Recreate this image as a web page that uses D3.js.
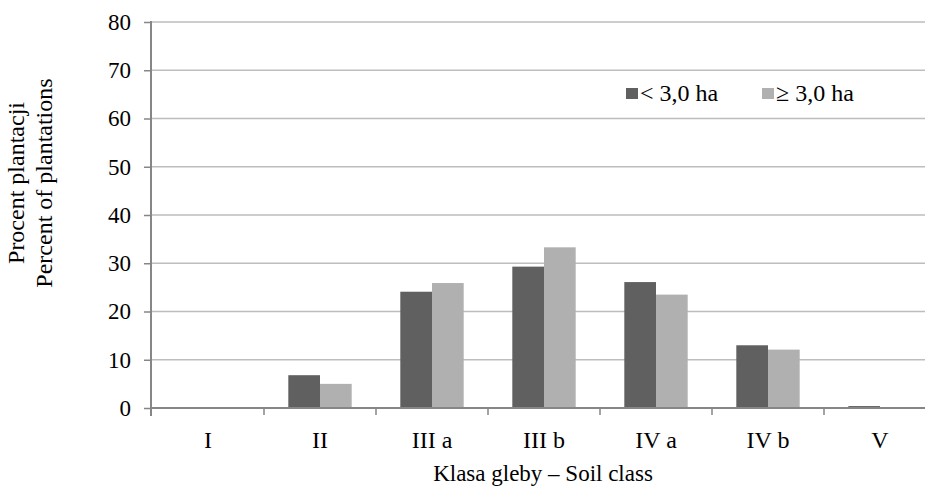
<!DOCTYPE html>
<html>
<head>
<meta charset="utf-8">
<script src="https://cdn.jsdelivr.net/npm/d3@7"></script>
<style>
  body { margin: 0; background: #fff; }
  svg { display: block; font-family: "Liberation Serif", "Times New Roman", serif; }
  .tick text { fill: #000; }
</style>
</head>
<body>
<script>
// data
const categories = ['I', 'II', 'III a', 'III b', 'IV a', 'IV b', 'V'];
const seriesNames = ['< 3,0 ha', '\u2265 3,0 ha'];
const small = [0, 6.8, 24.1, 29.3, 26.1, 13.0, 0.4];
const large = [0, 5.0, 25.9, 33.3, 23.5, 12.1, 0];
const yTicks = [0, 10, 20, 30, 40, 50, 60, 70, 80];

const colors = ['#606060', '#b0b0b0'];
const width = 925, height = 488;
const serif = '"Liberation Serif", "Times New Roman", serif';

const svg = d3.select('body').append('svg')
  .attr('width', width)
  .attr('height', height);

// plot runs past the right edge in the reference (cropped)
const x0 = d3.scaleBand().domain(categories).range([152, 936]).padding(0);
const x1 = d3.scaleBand().domain([0, 1]).range([0, x0.bandwidth()]).paddingInner(0).paddingOuter(0.767);
const y = d3.scaleLinear().domain([0, 80]).range([408, 22]);

// gridlines
svg.append('g')
  .selectAll('line')
  .data(yTicks.filter(d => d > 0))
  .enter().append('line')
  .attr('x1', 152).attr('x2', width)
  .attr('y1', d => y(d)).attr('y2', d => y(d))
  .attr('stroke', '#bdbdbd')
  .attr('stroke-width', 1.5);

// bars
const rows = categories.map((c, i) => ({ cat: c, vals: [small[i], large[i]] }));
const grp = svg.append('g').selectAll('g')
  .data(rows)
  .enter().append('g')
  .attr('transform', d => 'translate(' + x0(d.cat) + ' 0)');

grp.selectAll('rect')
  .data(d => d.vals.map((v, k) => ({ k: k, v: v })))
  .enter().append('rect')
  .attr('x', d => x1(d.k))
  .attr('width', x1.bandwidth())
  .attr('y', d => y(d.v))
  .attr('height', d => y(0) - y(d.v))
  .attr('fill', d => colors[d.k]);

// y axis
const yAxis = d3.axisLeft(y).tickValues(yTicks).tickSize(7).tickPadding(13);
const gy = svg.append('g')
  .attr('transform', 'translate(151 0)')
  .call(yAxis)
  .attr('font-family', serif)
  .attr('font-size', 23);
gy.select('.domain').remove();
gy.selectAll('.tick line').attr('stroke', '#868686').attr('stroke-width', 1.5);
gy.append('line')
  .attr('x1', 0).attr('x2', 0)
  .attr('y1', y(80) - 1).attr('y2', y(0) + 8)
  .attr('stroke', '#868686').attr('stroke-width', 2);

// x axis
const xAxis = d3.axisBottom(x0).tickSize(0);
const gx = svg.append('g')
  .attr('transform', 'translate(0 ' + y(0) + ')')
  .call(xAxis)
  .attr('font-family', serif)
  .attr('font-size', 24);
gx.select('.domain').remove();
gx.selectAll('.tick text').attr('y', 40).attr('dy', 0);
gx.append('line')
  .attr('x1', 151).attr('x2', width)
  .attr('y1', 0).attr('y2', 0)
  .attr('stroke', '#868686').attr('stroke-width', 2);
// category separators
gx.selectAll('.sep')
  .data(categories.slice(1))
  .enter().append('line')
  .attr('class', 'sep')
  .attr('x1', d => x0(d)).attr('x2', d => x0(d))
  .attr('y1', 0).attr('y2', 7)
  .attr('stroke', '#868686').attr('stroke-width', 1.5);

// axis titles
svg.append('text')
  .attr('x', 543).attr('y', 481)
  .attr('text-anchor', 'middle')
  .style('font-size', '23px')
  .text('Klasa gleby \u2013 Soil class');

const yt = svg.append('text')
  .attr('transform', 'translate(24 183) rotate(-90)')
  .attr('text-anchor', 'middle')
  .style('font-size', '24px');
yt.append('tspan').attr('x', 0).attr('y', 0).text('Procent plantacji');
yt.append('tspan').attr('x', 0).attr('y', 28).text('Percent of plantations');

// legend
const leg = svg.append('g').selectAll('g')
  .data(seriesNames)
  .enter().append('g')
  .attr('transform', (d, i) => 'translate(' + [626, 762][i] + ' 88)');
leg.append('rect')
  .attr('width', 12).attr('height', 11)
  .attr('fill', (d, i) => colors[i]);
leg.append('text')
  .attr('x', 14).attr('y', 13)
  .style('font-size', '24px')
  .text(d => d);
</script>
</body>
</html>
